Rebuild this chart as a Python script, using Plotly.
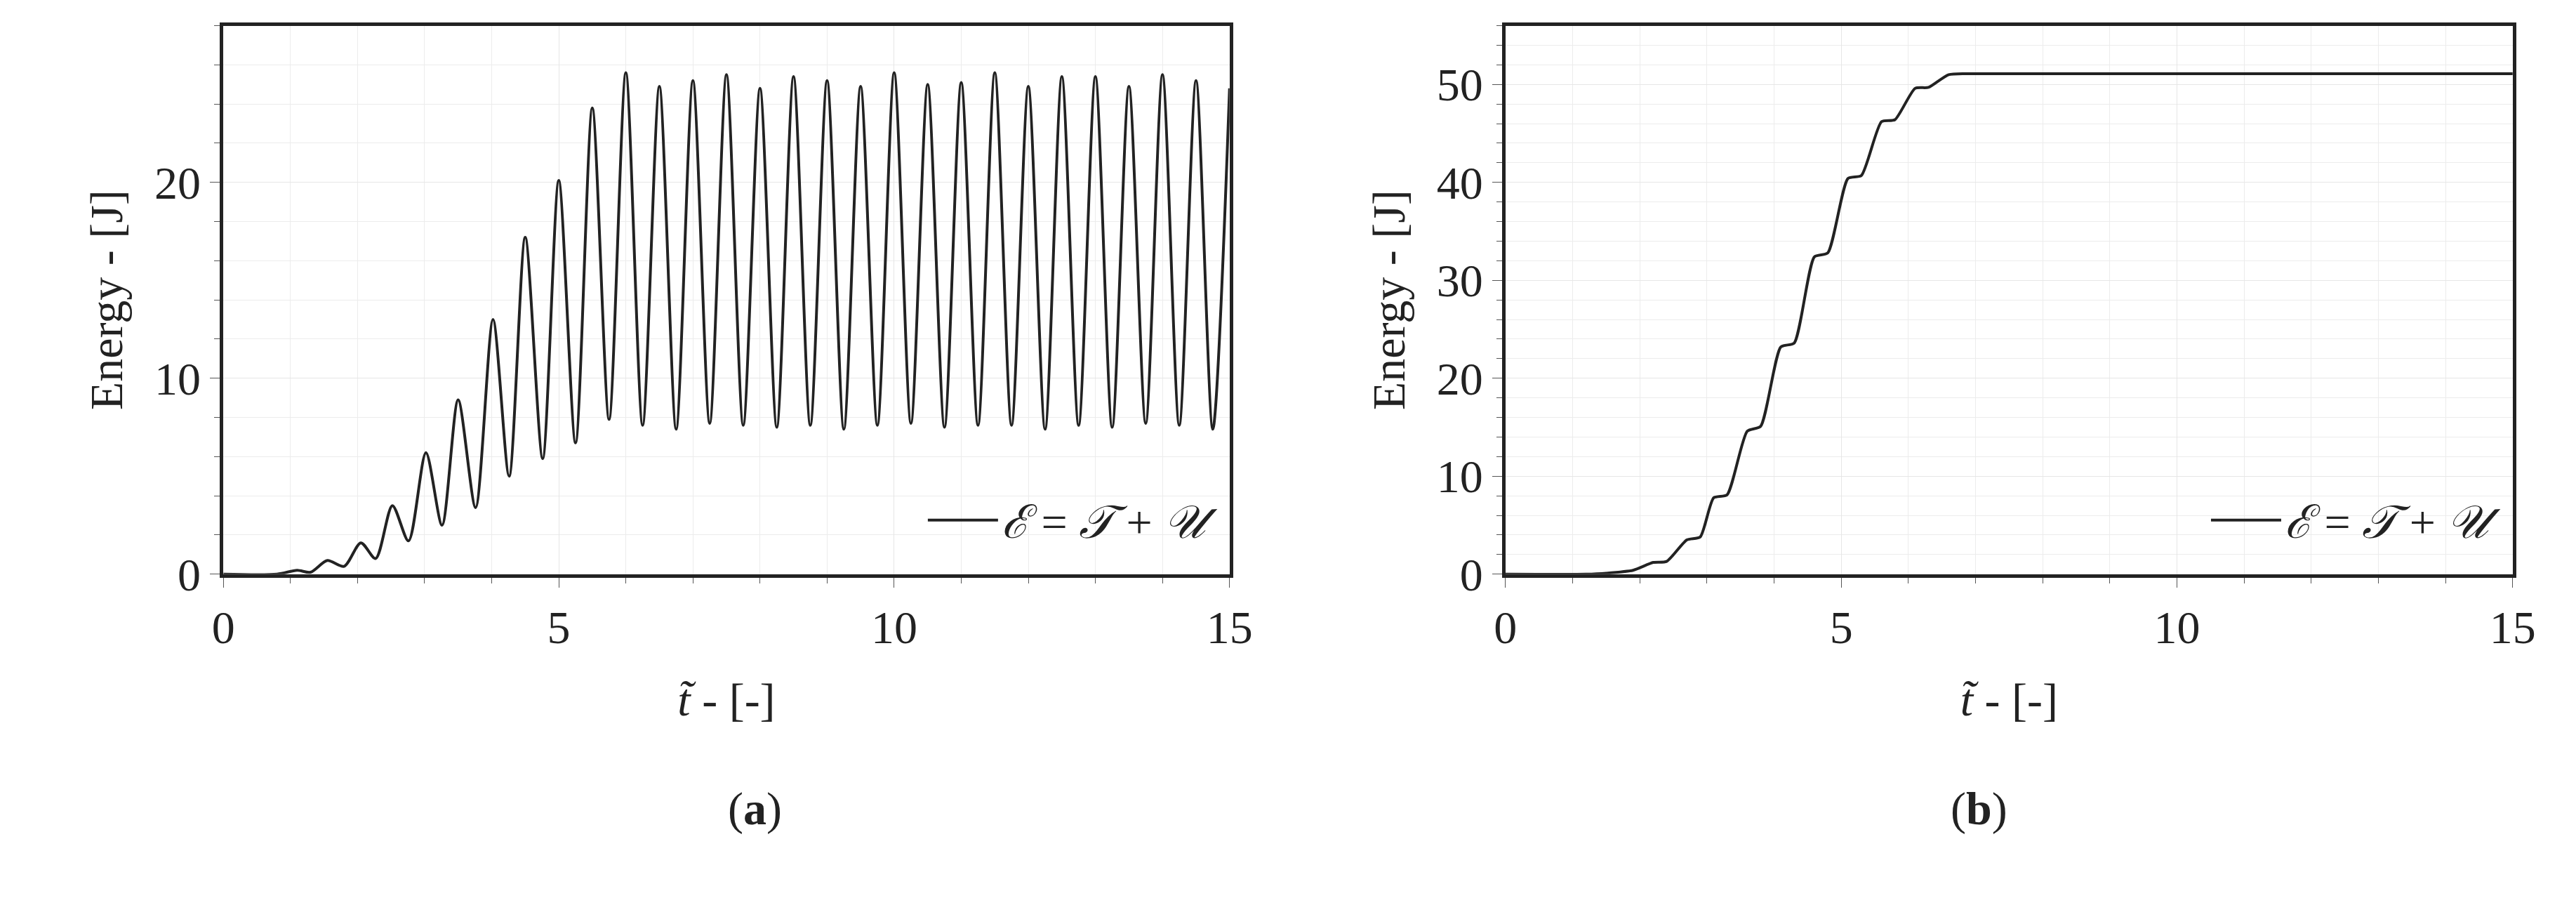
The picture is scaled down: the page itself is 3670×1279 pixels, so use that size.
import plotly.graph_objects as go

# (a) oscillating total energy: start, then alternating peaks/troughs
t_a = [0.0, 0.8, 1.1, 1.3, 1.55, 1.8, 2.05, 2.27, 2.52, 2.76, 3.02, 3.26, 3.5, 3.76, 4.02, 4.26, 4.5, 4.76,
       5.0, 5.25, 5.5, 5.75, 6.0, 6.25, 6.5, 6.75, 7.0, 7.25, 7.5, 7.75, 8.0, 8.25, 8.5, 8.75, 9.0, 9.25,
       9.5, 9.75, 10.0, 10.25, 10.5, 10.75, 11.0, 11.25, 11.5, 11.75, 12.0, 12.25, 12.5, 12.75, 13.0,
       13.25, 13.5, 13.75, 14.0, 14.25, 14.5, 14.75, 15.0]
e_a = [0.0, 0.0, 0.2, 0.1, 0.7, 0.4, 1.6, 0.8, 3.5, 1.7, 6.2, 2.5, 8.9, 3.4, 13.0, 5.0, 17.2, 5.9,
       20.1, 6.7, 23.8, 7.9, 25.6, 7.6, 24.9, 7.4, 25.2, 7.7, 25.5, 7.6, 24.8, 7.5, 25.4, 7.6, 25.2, 7.4,
       24.9, 7.6, 25.6, 7.7, 25.0, 7.5, 25.1, 7.6, 25.6, 7.6, 24.9, 7.4, 25.4, 7.6, 25.4,
       7.5, 24.9, 7.7, 25.5, 7.6, 25.2, 7.4, 24.8]

# (b) staircase rise to a plateau
t_b = [0.0, 1.2, 1.5, 1.9, 2.2, 2.4, 2.7, 2.9, 3.1, 3.3, 3.6, 3.8, 4.1, 4.3, 4.6, 4.8, 5.1, 5.3,
       5.6, 5.8, 6.1, 6.3, 6.6, 7.0, 15.0]
e_b = [0.0, 0.0, 0.1, 0.4, 1.2, 1.3, 3.5, 3.8, 7.8, 8.1, 14.6, 15.1, 23.2, 23.6, 32.4, 32.8, 40.4, 40.7,
       46.2, 46.4, 49.6, 49.7, 51.0, 51.1, 51.1]

legend_label = "<i>ℰ</i> = <i>𝒯</i> + <i>𝒰</i>"
FONT = "Liberation Serif"
FS = 66

fig = go.Figure()
fig.add_trace(go.Scatter(x=t_a, y=e_a, mode="lines", name=legend_label, showlegend=True,
                         line=dict(color="#222", width=4, shape="spline", smoothing=0.8),
                         xaxis="x", yaxis="y", legend="legend"))
fig.add_trace(go.Scatter(x=t_b, y=e_b, mode="lines", name=legend_label, showlegend=True,
                         line=dict(color="#222", width=4, shape="spline", smoothing=0.6),
                         xaxis="x2", yaxis="y2", legend="legend2"))

axis_common = dict(showline=True, linecolor="#222", linewidth=5, mirror=True, ticks="outside", ticklen=14,
                   tickcolor="#555", showgrid=True, gridcolor="#e6e6e6", zeroline=False,
                   tickfont=dict(family=FONT, size=FS, color="#222"))
minor_x = dict(dtick=1, showgrid=True, gridcolor="#ececec", ticks="outside", ticklen=8)
minor_y = dict(dtick=2, showgrid=True, gridcolor="#ececec", ticks="outside", ticklen=8)
title_font = dict(family=FONT, size=FS)

fig.update_layout(
    width=3670, height=1279, margin=dict(l=0, r=0, t=0, b=0),
    plot_bgcolor="white", paper_bgcolor="white",
    font=dict(family=FONT, color="#222"), showlegend=True,
    xaxis=dict(domain=[0.081, 0.477], range=[0, 15], tickvals=[0, 5, 10, 15], minor=minor_x,
               title=dict(text="<i>t̃</i> - [-]", font=title_font, standoff=45), anchor="y", **axis_common),
    yaxis=dict(domain=[0.348, 0.977], range=[0, 28], tickvals=[0, 10, 20], minor=minor_y,
               title=dict(text="Energy - [J]", font=title_font, standoff=25), anchor="x", **axis_common),
    xaxis2=dict(domain=[0.5856, 0.982], range=[0, 15], tickvals=[0, 5, 10, 15], minor=minor_x,
                title=dict(text="<i>t̃</i> - [-]", font=title_font, standoff=45), anchor="y2", **axis_common),
    yaxis2=dict(domain=[0.348, 0.977], range=[0, 56], tickvals=[0, 10, 20, 30, 40, 50], minor=minor_y,
                title=dict(text="Energy - [J]", font=title_font, standoff=25), anchor="x2", **axis_common),
    legend=dict(x=0.474, y=0.41, xref="paper", yref="paper", xanchor="right", yanchor="middle",
                bgcolor="rgba(0,0,0,0)", font=dict(family=FONT, size=FS), itemwidth=100),
    legend2=dict(x=0.979, y=0.41, xref="paper", yref="paper", xanchor="right", yanchor="middle",
                 bgcolor="rgba(0,0,0,0)", font=dict(family=FONT, size=FS), itemwidth=100),
    annotations=[
        dict(text="(<b>a</b>)", x=0.279, y=1 - 1218 / 1279, xref="paper", yref="paper", showarrow=False,
             font=dict(family=FONT, size=FS)),
        dict(text="(<b>b</b>)", x=0.7838, y=1 - 1218 / 1279, xref="paper", yref="paper", showarrow=False,
             font=dict(family=FONT, size=FS)),
    ],
)

fig.write_html("out.html")
